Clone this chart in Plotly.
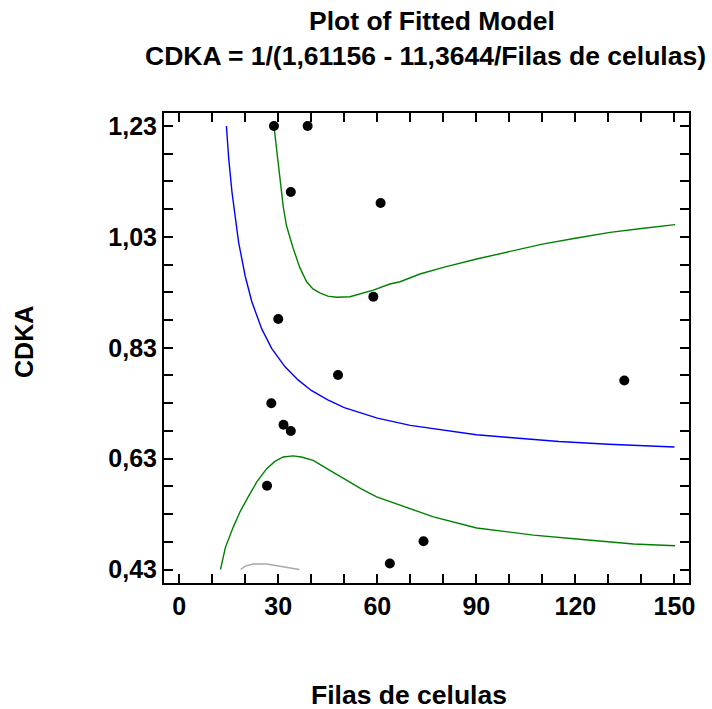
import plotly.graph_objects as go

# Observed data
x_obs = [28.7, 38.9, 33.8, 61.0, 58.8, 30.0, 48.1, 27.9, 31.6, 33.8, 26.6, 63.8, 74.0, 134.8]
y_obs = [1.23, 1.23, 1.111, 1.091, 0.922, 0.882, 0.781, 0.730, 0.691, 0.680, 0.581, 0.441, 0.481, 0.771]

# Fitted curve
x_fit = [14.3, 15, 16, 18, 20, 22, 25, 28, 32, 36, 40, 45, 50, 60, 70, 80, 90, 100, 115, 130, 150]
y_fit = [1.230, 1.171, 1.110, 1.020, 0.959, 0.913, 0.864, 0.829, 0.796, 0.772, 0.753, 0.736, 0.722,
         0.703, 0.690, 0.681, 0.673, 0.668, 0.661, 0.656, 0.651]

# Upper prediction limit
x_up = [28.7, 29.5, 30.5, 31.5, 32.5, 33.5, 34.5, 36.5, 38.6, 40.5, 42.6, 45, 47.7, 51.7, 55, 58.8,
        63.8, 66.9, 72.9, 80, 90.1, 102.2, 110, 120.4, 130.5, 140, 150.2]
y_up = [1.230, 1.188, 1.136, 1.085, 1.050, 1.028, 1.010, 0.975, 0.949, 0.936, 0.929, 0.923, 0.921,
        0.922, 0.927, 0.934, 0.945, 0.949, 0.963, 0.975, 0.990, 1.007, 1.017, 1.028, 1.038, 1.045, 1.052]

# Lower prediction limit
x_lo = [12.5, 14, 16.4, 18.5, 20.9, 23.5, 26.5, 29, 31.5, 34.5, 37, 40.6, 45, 49.7, 55, 59.8,
        66.9, 77, 90.1, 107.3, 120.4, 137.6, 150.2]
y_lo = [0.430, 0.470, 0.507, 0.535, 0.561, 0.588, 0.612, 0.625, 0.633, 0.635, 0.633, 0.627, 0.611,
        0.594, 0.576, 0.561, 0.546, 0.525, 0.505, 0.492, 0.485, 0.476, 0.473]

# Lower confidence limit (visible fragment)
x_cl = [18.6, 20, 22.4, 26.5, 30.5, 33.5, 36.4]
y_cl = [0.430, 0.436, 0.440, 0.440, 0.436, 0.433, 0.430]

x_ticks = [0, 30, 60, 90, 120, 150]
x_ticktext = ["0", "30", "60", "90", "120", "150"]
y_ticks = [0.43, 0.63, 0.83, 1.03, 1.23]
y_ticktext = ["0,43", "0,63", "0,83", "1,03", "1,23"]

title_1 = "Plot of Fitted Model"
title_2 = "CDKA = 1/(1,61156 - 11,3644/Filas de celulas)"
x_title = "Filas de celulas"
y_title = "CDKA"

FONT = "Liberation Sans, Arial, sans-serif"

fig = go.Figure()
fig.add_trace(go.Scatter(x=x_fit, y=y_fit, mode="lines", line=dict(color="#0000ff", width=1.4),
                         showlegend=False, hoverinfo="skip"))
fig.add_trace(go.Scatter(x=x_up, y=y_up, mode="lines", line=dict(color="#008000", width=1.4),
                         showlegend=False, hoverinfo="skip"))
fig.add_trace(go.Scatter(x=x_lo, y=y_lo, mode="lines", line=dict(color="#008000", width=1.4),
                         showlegend=False, hoverinfo="skip"))
fig.add_trace(go.Scatter(x=x_cl, y=y_cl, mode="lines", line=dict(color="#a8a8a8", width=1.4),
                         showlegend=False, hoverinfo="skip"))
fig.add_trace(go.Scatter(x=x_obs, y=y_obs, mode="markers",
                         marker=dict(color="black", size=10, line=dict(width=0)),
                         showlegend=False))

axis_common = dict(showgrid=False, zeroline=False, showline=True, linecolor="black", linewidth=2,
                   mirror="allticks", ticks="inside", ticklen=9, tickwidth=2, tickcolor="black",
                   tickfont=dict(family=FONT, size=25, color="black", weight="bold"))

fig.update_xaxes(range=[-4.6, 154.4], tickmode="array", tickvals=x_ticks, ticktext=x_ticktext,
                 minor=dict(dtick=10, tick0=0, ticks="inside", ticklen=9, tickwidth=2, tickcolor="black"),
                 **axis_common)
fig.update_yaxes(range=[0.4057, 1.2534], tickmode="array", tickvals=y_ticks, ticktext=y_ticktext,
                 minor=dict(dtick=0.05, tick0=0.43, ticks="inside", ticklen=9, tickwidth=2, tickcolor="black"),
                 **axis_common)

ann_font = dict(family=FONT, size=26.5, color="black", weight="bold")
fig.update_layout(
    width=712, height=709,
    margin=dict(l=164, r=23, t=113, b=126),
    paper_bgcolor="white", plot_bgcolor="white",
    annotations=[
        dict(text=title_1, xref="paper", yref="paper", x=0.5114, y=1.1957, xanchor="center",
             yanchor="middle", showarrow=False, font=ann_font),
        dict(text=title_2, xref="paper", yref="paper", x=0.498, y=1.1223, xanchor="center",
             yanchor="middle", showarrow=False, font=ann_font),
        dict(text=y_title, xref="paper", yref="paper", x=-0.2667, y=0.5128, xanchor="center",
             yanchor="middle", textangle=-90, showarrow=False,
             font=dict(family=FONT, size=25, color="black", weight="bold")),
        dict(text=x_title, xref="paper", yref="paper", x=0.4667, y=-0.2383, xanchor="center",
             yanchor="middle", showarrow=False,
             font=dict(family=FONT, size=26.5, color="black", weight="bold")),
    ],
)

fig.write_html("out.html")
